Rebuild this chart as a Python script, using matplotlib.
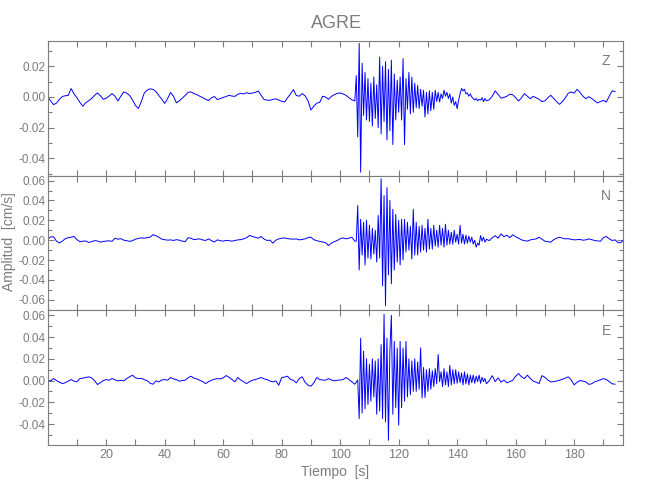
import numpy as np
import matplotlib
matplotlib.use("Agg")
import matplotlib.pyplot as plt
from matplotlib.ticker import MultipleLocator, FixedLocator, FormatStrFormatter

plt.rcParams['font.family'] = ['Liberation Sans Narrow', 'Liberation Sans', 'DejaVu Sans']

# amplitudes in 1e-3 cm/s
# pre-event: one value per second, 0..105 s
z_pre = [0.0, -2.5, -5.0, -4.0, -1.5, 0.3, 0.8, 1.0, 5.5, 2.0,
         -0.5, -3.5, -6.0, -3.7, -2.5, -1.0, 1.0, 2.6, 0.8, -1.5,
         -0.8, 0.6, 2.2, 0.5, -2.6, 0.5, 3.3, 2.5, 1.0, -2.0,
         -5.5, -7.5, -3.0, 2.5, 4.5, 5.3, 5.0, 3.5, 1.0, -1.5,
         -4.2, -1.0, 3.0, 0.5, -3.8, -2.5, -0.8, 1.0, 3.0, 3.3,
         2.2, 1.5, 0.5, -0.4, -1.5, -2.3, -0.5, 0.3, -1.7, -1.0,
         -0.3, 0.3, 1.1, 0.6, 0.4, 1.8, 2.4, 2.0, 2.8, 2.2,
         2.6, 3.0, 3.9, 1.0, -1.7, -2.0, -2.2, -1.5, -1.3, -2.0,
         -2.8, -3.3, -0.5, 2.0, 4.8, 1.0, 0.5, 2.2, 0.8, -2.5,
         -8.5, -6.0, -4.0, -3.5, 0.5, 0.0, -1.5, 0.4, 1.5, 2.4,
         2.6, 2.0, 1.1, -0.5, -1.8, -2.6]
n_pre = [1.3, 3.2, 3.5, -1.0, -2.8, -1.0, 1.5, 2.5, 3.0, 3.7,
         0.5, -1.5, -1.0, -0.8, -2.3, -1.5, -0.5, -0.8, -2.0, -1.3,
         -1.0, -0.6, -1.2, 2.0, 1.0, 1.5, 0.0, -0.5, -1.2, -0.5,
         1.0, 1.8, 2.3, 2.0, 2.5, 3.0, 5.5, 4.5, 3.0, 1.0,
         0.5, 0.0, 0.3, -0.3, 0.5, 0.0, -1.0, -1.5, 2.5, 2.0,
         0.5, 1.0, 1.3, 0.2, -0.3, 1.3, -0.5, -1.8, 0.3, -0.5,
         -1.0, -0.2, -0.5, -1.0, -0.3, 0.3, 0.5, 1.3, 2.5, 4.7,
         3.7, 2.8, 2.0, 3.7, 1.0, -0.3, 0.0, -3.0, 0.0, 1.3,
         2.0, 2.3, 1.5, 1.3, 1.0, 1.3, 0.3, 0.8, 1.3, 2.5,
         3.0, 0.5, -0.5, -1.3, -1.8, -2.5, -5.4, -3.0, -1.5, -0.3,
         1.5, 2.3, 1.3, 2.0, 3.0, -1.0]
e_pre = [0.3, -0.3, 1.8, 0.0, -1.5, -2.8, -2.0, -0.5, 0.9, -0.5,
         -1.2, 1.8, 2.2, 2.8, 3.4, 2.5, 0.0, -3.7, -2.0, 0.0,
         0.9, 0.3, 1.8, 0.8, -0.3, 0.2, -0.3, 1.8, 3.5, 4.9,
         2.5, 1.8, 2.0, 0.8, 0.0, -2.5, -3.4, -0.3, -1.2, 0.5,
         0.9, 0.3, 2.8, 1.5, 0.9, -0.6, 0.0, 0.3, 2.5, 4.0,
         2.2, 1.5, 0.3, -1.0, -2.8, -1.0, 0.3, 1.2, 1.8, 1.5,
         2.5, 4.6, 3.0, 1.0, -1.2, 2.8, 0.5, -1.2, -2.8, -1.0,
         0.3, 0.9, 1.8, 2.8, 1.5, 0.9, -0.5, -1.2, -0.3, -4.3,
         2.8, 3.2, 4.0, 1.0, 0.3, -2.1, 1.8, 3.4, -1.5, -4.3,
         -5.2, -2.1, 2.8, 0.9, 0.5, 0.3, 1.8, 0.5, -0.3, 0.3,
         0.5, 0.9, 2.8, 1.0, -1.2, -3.4]

# strong motion: every 0.5 s, 105.5..150 s
z_main = [14, -26, 35, -49, 22, -12, 16, -15, 12, -16,
          9, -19, 13, -14, 8, -20, 26, -24, 20, -16,
          23, -28, 18, -22, 24, -31, 15, -15, 11, -10,
          13, -15, 25, -31, 12, -8, 16, -11, 13, -10,
          9, -7, 7.5, -7.5, 5, -6, 4.4, -13, 3, -11,
          4, -9, 3, -8, 4.4, -3, 3, -3.3, 2, -1,
          4.4, 0.5, 3, -1, 2, -4, 0, -5.5, -3, -7.6,
          -2, 2, 5.5, 4, 5, 2, 2.6, 0.5, 2, 0,
          -1, -2, -1, -2.5, -1.5, -2, -0.5, -3, -1, -2.5]
n_main = [-1, 35, -30, 21, -15, 18, -25, 20, -18, 15,
          -19, 12, -14, 10, -22, 25, -18, 62, -46, 45,
          -66, 53, -35, 40, -44, 31, -30, 26, -22, 20,
          -25, 21, -20, 21, -12, 18, -10, 14, -19, 31,
          -15, 18, -15, 14, -12, 15, -10, 12, -12, 21,
          -9, 12, -9, 15, -6, 10, -7, 15, -5, 12,
          -7, 16, -5, 10, -4, 8, -4, 10, -2, 6,
          -4, 15, -3, 6, -4, 5, -3, 4, -2, 3,
          -4, 0, -7, -3, -5, 4.7, -1, 3, -2, 1]
e_main = [-1.5, 0.6, -35, 39, -30, 27, -26, 20, -22, 15,
          -19, 20, -15, 18, -31, 20, -28, 33, -35, 61,
          -38, 39, -55, 28, 60, -31, 36, -25, 30, -41,
          36, -25, 30, -19, 36, -15, 20, -13, 18, -10,
          20, -10, 17, -8, 30, -16, 12, -15.6, 10, -10,
          11, -8, 9, -5.5, 11, -3, 24, -1, 8, -5.5,
          11, -4, 8, -5.5, 14, -4, 10, -3, 10, -2.5,
          8, -2, 7, -4, 8, -3, 6, -4, 5, -2,
          5, -2.5, 4, -1, 5, -2.5, 3, -1, 2, -3]

# coda: one value per second from 151 s
z_post = [-1.8, 0.5, 4.0, 1.7, -0.8, -0.3, 0.5, 1.8, 1.5, -0.5,
          -2.6, -0.5, 2.2, 0.5, -1.1, 0.4, -0.5, -1.5, -3.0, -2.5,
          -0.5, 1.1, -1.0, -3.0, -4.8, -3.0, -0.5, 2.5, 3.3, 2.5,
          5.0, 3.0, 0.5, -1.1, 0.2, -1.0, -2.5, -3.9, -3.0, -2.2,
          -3.3, 0.5, 4.0, 3.5]
n_post = [-0.5, 2.5, 4.5, 2.0, 6.4, 3.5, 5.0, 2.5, 5.4, 3.5,
          2.0, 0.3, -0.5, -1.0, 0.3, 0.8, 1.3, 3.0, 1.0, -1.0,
          -1.5, -2.0, 0.5, 2.0, 3.0, 2.0, 1.3, 1.5, 0.8, 0.3,
          0.5, 0.7, 0.0, 0.3, 1.3, 0.5, -0.3, -0.8, -1.0, 2.5,
          3.7, 1.3, -0.3, 0.3, -2.5, -2.5, 0.7]
e_post = [0.0, 4.5, -1.0, 2.5, -1.5, 0.5, -2.1, -1.0, 0.3, 4.0,
          6.4, 3.4, 1.8, 5.0, 2.0, -0.5, -1.5, -2.8, 4.5, 3.0,
          0.5, -1.2, -1.0, -0.5, 0.3, 1.2, 2.2, 3.4, 0.5, -4.0,
          -1.5, 0.0, -0.5, -1.2, -3.5, -3.0, -1.2, -0.3, 0.8, 1.8,
          1.0, -1.0, -3.0, -3.4]

componentes = ['Z', 'N', 'E']
ylims = [(-0.0513, 0.0365), (-0.0707, 0.065), (-0.0593, 0.0646)]
xticks = [20, 40, 60, 80, 100, 120, 140, 160, 180]


def serie(pre, main, post):
    t = np.concatenate([np.arange(len(pre)),
                        105.5 + 0.5 * np.arange(len(main)),
                        151 + np.arange(len(post))])
    y = np.concatenate([pre, main, post]) * 1e-3
    return t, y


trazas = [serie(z_pre, z_main, z_post),
          serie(n_pre, n_main, n_post),
          serie(e_pre, e_main, e_post)]

gris = '#7c7c7c'
fig = plt.figure(figsize=(6.5, 5), dpi=100)

left, width = 0.0734, 0.8855
top, bottom = 0.918, 0.11
h = (top - bottom) / 3

for i in range(3):
    ax = fig.add_axes([left, top - (i + 1) * h, width, h])
    t, y = trazas[i]
    ax.plot(t, y, color='#0000ff', lw=0.7)
    ax.set_xlim(0, 196.8)
    ax.set_ylim(*ylims[i])
    ax.xaxis.set_major_locator(FixedLocator(xticks))
    ax.xaxis.set_minor_locator(MultipleLocator(10))
    ax.yaxis.set_major_locator(MultipleLocator(0.02))
    ax.yaxis.set_minor_locator(MultipleLocator(0.01))
    ax.yaxis.set_major_formatter(FormatStrFormatter('%.2f'))
    ax.tick_params(which='both', direction='in', top=True, right=True,
                   color=gris, labelcolor=gris, width=0.8)
    ax.tick_params(axis='x', which='both', length=4.5, pad=3, labelsize=9)
    ax.tick_params(axis='y', which='major', length=4.5, pad=1.5, labelsize=8.5)
    ax.tick_params(axis='y', which='minor', length=3)
    if i < 2:
        ax.tick_params(axis='x', labelbottom=False)
    for s in ax.spines.values():
        s.set_color(gris)
        s.set_linewidth(0.8)
    ax.text(0.97, 0.85, componentes[i], transform=ax.transAxes,
            ha='center', va='center', color=gris, fontsize=10)

fig.text(0.517, 0.954, 'AGRE', ha='center', va='center', color=gris, fontsize=13)
fig.text(0.516, 0.056, 'Tiempo  [s]', ha='center', va='center', color=gris, fontsize=10)
fig.text(0.014, 0.516, 'Amplitud  [cm/s]', ha='center', va='center', color=gris,
         fontsize=10, rotation=90)

fig.savefig('out.png', dpi=100)
